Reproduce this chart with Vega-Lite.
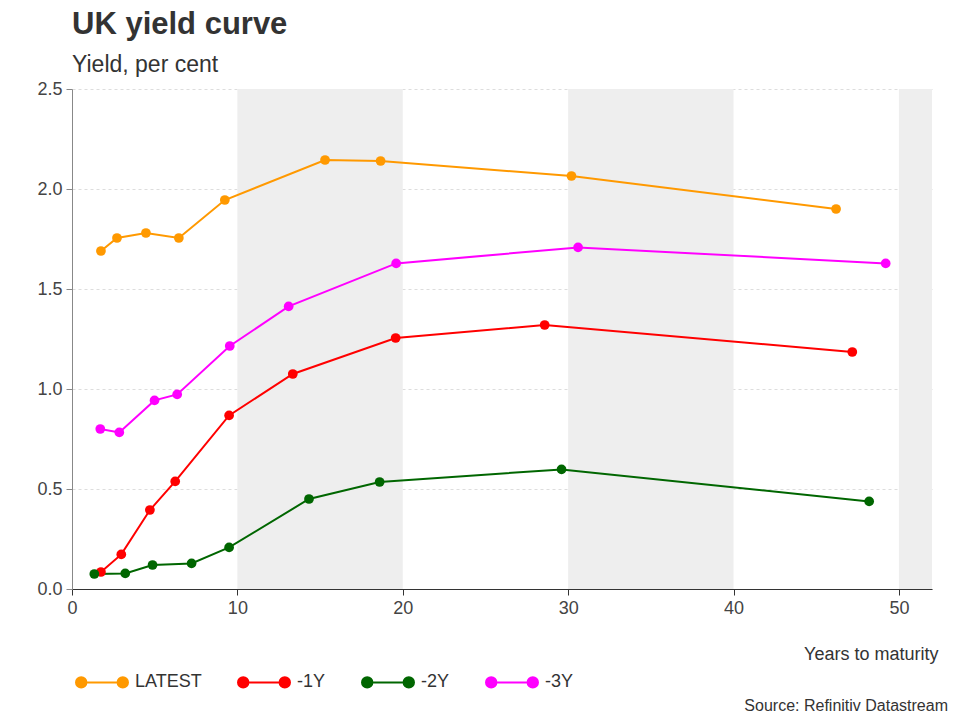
{
  "$schema": "https://vega.github.io/schema/vega-lite/v6.json",
  "autosize": {"type": "none"},
  "width": 860,
  "height": 500,
  "padding": {"left": 72, "top": 89, "right": 28, "bottom": 131},
  "background": "white",
  "config": {"font": "Liberation Sans", "view": {"stroke": null}},
  "title": {
    "text": "UK yield curve",
    "subtitle": "Yield, per cent",
    "anchor": "start",
    "frame": "group",
    "fontSize": 31,
    "fontWeight": "bold",
    "color": "#333333",
    "subtitleFontSize": 23,
    "subtitleColor": "#333333",
    "subtitlePadding": 13,
    "offset": 2
  },
  "datasets": {
    "bands": [
      {"start": 10, "end": 20},
      {"start": 30, "end": 40},
      {"start": 50, "end": 52}
    ],
    "curves": [
      {"series": "LATEST", "years": 1.75, "yield": 1.69},
      {"series": "LATEST", "years": 2.72, "yield": 1.755},
      {"series": "LATEST", "years": 4.47, "yield": 1.78},
      {"series": "LATEST", "years": 6.46, "yield": 1.755},
      {"series": "LATEST", "years": 9.24, "yield": 1.945},
      {"series": "LATEST", "years": 15.3, "yield": 2.145},
      {"series": "LATEST", "years": 18.66, "yield": 2.14},
      {"series": "LATEST", "years": 30.2, "yield": 2.065},
      {"series": "LATEST", "years": 46.2, "yield": 1.9},
      {"series": "-1Y", "years": 1.75, "yield": 0.085},
      {"series": "-1Y", "years": 2.98, "yield": 0.173},
      {"series": "-1Y", "years": 4.71, "yield": 0.395},
      {"series": "-1Y", "years": 6.24, "yield": 0.538},
      {"series": "-1Y", "years": 9.5, "yield": 0.868},
      {"series": "-1Y", "years": 13.35, "yield": 1.075},
      {"series": "-1Y", "years": 19.57, "yield": 1.255},
      {"series": "-1Y", "years": 28.58, "yield": 1.32},
      {"series": "-1Y", "years": 47.18, "yield": 1.185},
      {"series": "-2Y", "years": 1.35, "yield": 0.075},
      {"series": "-2Y", "years": 3.22, "yield": 0.078},
      {"series": "-2Y", "years": 4.87, "yield": 0.12},
      {"series": "-2Y", "years": 7.23, "yield": 0.128},
      {"series": "-2Y", "years": 9.5, "yield": 0.208},
      {"series": "-2Y", "years": 14.33, "yield": 0.45},
      {"series": "-2Y", "years": 18.6, "yield": 0.535},
      {"series": "-2Y", "years": 29.6, "yield": 0.598},
      {"series": "-2Y", "years": 48.2, "yield": 0.438},
      {"series": "-3Y", "years": 1.71, "yield": 0.8},
      {"series": "-3Y", "years": 2.86, "yield": 0.783},
      {"series": "-3Y", "years": 4.99, "yield": 0.943},
      {"series": "-3Y", "years": 6.36, "yield": 0.973},
      {"series": "-3Y", "years": 9.54, "yield": 1.215},
      {"series": "-3Y", "years": 13.1, "yield": 1.413},
      {"series": "-3Y", "years": 19.6, "yield": 1.628},
      {"series": "-3Y", "years": 30.6, "yield": 1.708},
      {"series": "-3Y", "years": 49.2, "yield": 1.628}
    ],
    "notes": [{"note": "Source: Refinitiv Datastream"}]
  },
  "layer": [
    {
      "data": {"name": "bands"},
      "mark": {"type": "rect", "color": "#eeeeee"},
      "encoding": {
        "x": {
          "field": "start",
          "type": "quantitative",
          "scale": {"domain": [0, 52], "nice": false, "zero": false},
          "axis": {
            "title": "Years to maturity",
            "values": [0, 10, 20, 30, 40, 50],
            "grid": false,
            "labelFlush": false,
            "domainColor": "#333333",
            "tickColor": "#333333",
            "tickSize": 6,
            "labelFontSize": 18,
            "labelColor": "#444444",
            "labelPadding": 4,
            "titleFontSize": 18,
            "titleFontWeight": "normal",
            "titleColor": "#333333",
            "titleAnchor": "end",
            "titleAlign": "right",
            "titleX": 866,
            "titleY": 65,
            "titleBaseline": "middle"
          }
        },
        "x2": {"field": "end"},
        "y": {"datum": 0},
        "y2": {"datum": 2.5}
      }
    },
    {
      "data": {"name": "curves"},
      "mark": {"type": "line", "strokeWidth": 2, "point": {"filled": true, "size": 95, "opacity": 1}},
      "encoding": {
        "x": {"field": "years", "type": "quantitative"},
        "y": {
          "field": "yield",
          "type": "quantitative",
          "scale": {"domain": [0, 2.5], "nice": false},
          "axis": {
            "title": null,
            "values": [0, 0.5, 1, 1.5, 2, 2.5],
            "format": ".1f",
            "grid": true,
            "labelFlush": false,
            "gridColor": "#dddddd",
            "gridDash": [3, 3],
            "domainColor": "#888888",
            "tickColor": "#888888",
            "tickSize": 6,
            "labelFontSize": 18,
            "labelColor": "#444444",
            "labelPadding": 4,
            "zindex": 0
          }
        },
        "color": {
          "field": "series",
          "type": "nominal",
          "scale": {
            "domain": ["LATEST", "-1Y", "-2Y", "-3Y"],
            "range": ["#ff9900", "#ff0000", "#006600", "#ff00ff"]
          },
          "legend": {
            "title": null,
            "orient": "none",
            "legendX": 3,
            "legendY": 566,
            "direction": "horizontal",
            "symbolType": "M-0.8,0H0.8M-1,0a0.2,0.2 0 1,0 0.4,0a0.2,0.2 0 1,0 -0.4,0M0.6,0a0.2,0.2 0 1,0 0.4,0a0.2,0.2 0 1,0 -0.4,0",
            "symbolSize": 2700,
            "symbolStrokeWidth": 2,
            "labelFontSize": 18,
            "labelColor": "#333333",
            "labelOffset": 6,
            "columnPadding": 32,
            "encode": {
              "symbols": {
                "update": {
                  "fill": {"scale": "color", "field": "value"},
                  "stroke": {"scale": "color", "field": "value"},
                  "opacity": {"value": 1}
                }
              }
            }
          }
        }
      }
    },
    {
      "data": {"name": "notes"},
      "mark": {"type": "text", "align": "right", "baseline": "middle", "fontSize": 16, "color": "#333333", "dx": 16, "dy": 117},
      "encoding": {
        "x": {"datum": 52},
        "y": {"datum": 0},
        "text": {"field": "note"}
      }
    }
  ]
}
